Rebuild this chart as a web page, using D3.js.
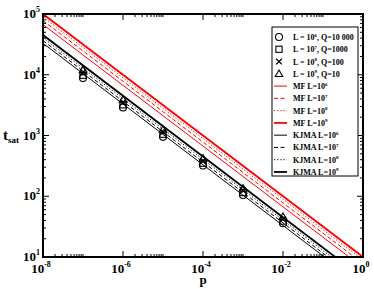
<!DOCTYPE html>
<html>
<head>
<meta charset="utf-8">
<script src="https://cdn.jsdelivr.net/npm/d3@7"></script>
<style>
  body { margin: 0; background: #fff; }
  text { font-family: "Liberation Serif", "DejaVu Serif", serif; font-weight: bold; fill: #000; }
</style>
</head>
<body>
<script>
// data
var pPoints = [1e-7, 1e-6, 1e-5, 1e-4, 1e-3, 1e-2];
var simL6 = [8800, 2900, 950, 320, 105, 36];
var simL7 = [9800, 3200, 1050, 350, 115, 39];
var simL8 = [11000, 3500, 1150, 385, 125, 42];
var simL9 = [12000, 3900, 1250, 420, 135, 46];

// straight lines in log-log, values at p = 1e-8 and p = 1
var lineP = [1e-8, 1];
var mfL6 = [67000, 6.7];
var mfL7 = [78000, 7.8];
var mfL8 = [89000, 8.9];
var mfL9 = [100000, 10];
var kjmaL6 = [33000, 3.3];
var kjmaL7 = [36500, 3.65];
var kjmaL8 = [40500, 4.05];
var kjmaL9 = [45000, 4.5];

var xMajor = [1e-8, 1e-6, 1e-4, 1e-2, 1];
var xExp = ["-8", "-6", "-4", "-2", "0"];
var yMajor = [1e1, 1e2, 1e3, 1e4, 1e5];
var yExp = ["1", "2", "3", "4", "5"];

var width = 374, height = 289;
var pLeft = 43, pRight = 363, pTop = 14, pBottom = 257;

var svg = d3.select("body").append("svg")
  .attr("width", width)
  .attr("height", height);

var x = d3.scaleLog().domain([1e-8, 1]).range([pLeft, pRight]);
var y = d3.scaleLog().domain([10, 1e5]).range([pBottom, pTop]);

svg.append("clipPath").attr("id", "plot")
  .append("rect")
  .attr("x", pLeft).attr("y", pTop)
  .attr("width", pRight - pLeft).attr("height", pBottom - pTop);

// lines
var lines = [
  { vals: mfL6, color: "#ff0000", w: 1, dash: null },
  { vals: mfL7, color: "#ff0000", w: 1, dash: "4,2.5" },
  { vals: mfL8, color: "#ff0000", w: 1, dash: "1.2,2" },
  { vals: mfL9, color: "#ff0000", w: 1.8, dash: null },
  { vals: kjmaL6, color: "#000", w: 1, dash: null },
  { vals: kjmaL7, color: "#000", w: 1, dash: "4,2.5" },
  { vals: kjmaL8, color: "#000", w: 1, dash: "1.2,2" },
  { vals: kjmaL9, color: "#000", w: 1.8, dash: null }
];

var lineGen = d3.line()
  .x(function(d) { return x(d[0]); })
  .y(function(d) { return y(d[1]); });

svg.append("g")
  .attr("clip-path", "url(#plot)")
  .selectAll("path")
  .data(lines)
  .enter().append("path")
  .attr("d", function(d) { return lineGen(lineP.map(function(p, i) { return [p, d.vals[i]]; })); })
  .attr("fill", "none")
  .attr("stroke", function(d) { return d.color; })
  .attr("stroke-width", function(d) { return d.w; })
  .attr("stroke-dasharray", function(d) { return d.dash; });

// symbols
function drawSymbol(g, type, cx, cy) {
  if (type === "circle") {
    g.append("circle").attr("cx", cx).attr("cy", cy).attr("r", 3.5)
      .attr("fill", "none").attr("stroke", "#000").attr("stroke-width", 1.1);
  } else if (type === "square") {
    g.append("rect").attr("x", cx - 3.1).attr("y", cy - 3.1).attr("width", 6.2).attr("height", 6.2)
      .attr("fill", "none").attr("stroke", "#000").attr("stroke-width", 1.1);
  } else if (type === "x") {
    g.append("path").attr("d", "M" + (cx - 2.8) + "," + (cy - 2.8) + "L" + (cx + 2.8) + "," + (cy + 2.8) +
      "M" + (cx - 2.8) + "," + (cy + 2.8) + "L" + (cx + 2.8) + "," + (cy - 2.8))
      .attr("stroke", "#000").attr("stroke-width", 1.3);
  } else {
    g.append("path").attr("d", "M" + cx + "," + (cy - 3.8) + "L" + (cx + 3.8) + "," + (cy + 2.7) +
      "L" + (cx - 3.8) + "," + (cy + 2.7) + "Z")
      .attr("fill", "none").attr("stroke", "#000").attr("stroke-width", 1.1);
  }
}

var sims = [
  { vals: simL6, type: "circle" },
  { vals: simL7, type: "square" },
  { vals: simL8, type: "x" },
  { vals: simL9, type: "triangle" }
];
var pts = svg.append("g");
sims.forEach(function(s) {
  s.vals.forEach(function(v, i) {
    drawSymbol(pts, s.type, x(pPoints[i]), y(v));
  });
});

// ticks
var xMinor = [];
xMajor.slice(0, -1).forEach(function(m) {
  for (var k = 2; k <= 10; k++) xMinor.push(m * k);
});
var yMinor = [];
yMajor.slice(0, -1).forEach(function(m) {
  for (var k = 2; k <= 9; k++) yMinor.push(m * k);
});

var ticks = svg.append("g").attr("stroke", "#000").attr("stroke-width", 1);
xMajor.forEach(function(v) {
  ticks.append("line").attr("x1", x(v)).attr("x2", x(v)).attr("y1", pBottom).attr("y2", pBottom - 6);
  ticks.append("line").attr("x1", x(v)).attr("x2", x(v)).attr("y1", pTop).attr("y2", pTop + 6);
});
xMinor.forEach(function(v) {
  ticks.append("line").attr("x1", x(v)).attr("x2", x(v)).attr("y1", pBottom).attr("y2", pBottom - 3);
  ticks.append("line").attr("x1", x(v)).attr("x2", x(v)).attr("y1", pTop).attr("y2", pTop + 3);
});
yMajor.forEach(function(v) {
  ticks.append("line").attr("y1", y(v)).attr("y2", y(v)).attr("x1", pLeft).attr("x2", pLeft + 6);
  ticks.append("line").attr("y1", y(v)).attr("y2", y(v)).attr("x1", pRight).attr("x2", pRight - 6);
});
yMinor.forEach(function(v) {
  ticks.append("line").attr("y1", y(v)).attr("y2", y(v)).attr("x1", pLeft).attr("x2", pLeft + 3);
  ticks.append("line").attr("y1", y(v)).attr("y2", y(v)).attr("x1", pRight).attr("x2", pRight - 3);
});

// frame
svg.append("rect")
  .attr("x", pLeft).attr("y", pTop)
  .attr("width", pRight - pLeft).attr("height", pBottom - pTop)
  .attr("fill", "none").attr("stroke", "#000").attr("stroke-width", 2);

// tick labels
xMajor.forEach(function(v, i) {
  var t = svg.append("text")
    .attr("x", x(v) - 2).attr("y", 273)
    .attr("text-anchor", "middle")
    .style("font-size", "13px");
  t.append("tspan").text("10");
  t.append("tspan").attr("dy", -6).style("font-size", "8px").text(xExp[i]);
});
yMajor.forEach(function(v, i) {
  var t = svg.append("text")
    .attr("x", 40).attr("y", y(v) + 4)
    .attr("text-anchor", "end")
    .style("font-size", "13px");
  t.append("tspan").text("10");
  t.append("tspan").attr("dy", -6).style("font-size", "8px").text(yExp[i]);
});

// axis titles
var yt = svg.append("text").attr("x", 3).attr("y", 140).style("font-size", "15px");
yt.append("tspan").text("t");
yt.append("tspan").attr("dy", 3).style("font-size", "9px").text("sat");
svg.append("text").attr("x", (pLeft + pRight) / 2).attr("y", 284)
  .attr("text-anchor", "middle").style("font-size", "13px").text("p");

// legend
var legendItems = [
  { kind: "sym", type: "circle", pre: "L = 10", exp: "6", post: ", Q=10 000" },
  { kind: "sym", type: "square", pre: "L = 10", exp: "7", post: ", Q=1000" },
  { kind: "sym", type: "x", pre: "L = 10", exp: "8", post: ", Q=100" },
  { kind: "sym", type: "triangle", pre: "L = 10", exp: "9", post: ", Q=10" },
  { kind: "line", line: lines[0], pre: "MF L=10", exp: "6", post: "" },
  { kind: "line", line: lines[1], pre: "MF L=10", exp: "7", post: "" },
  { kind: "line", line: lines[2], pre: "MF L=10", exp: "8", post: "" },
  { kind: "line", line: lines[3], pre: "MF L=10", exp: "9", post: "" },
  { kind: "line", line: lines[4], pre: "KJMA L=10", exp: "6", post: "" },
  { kind: "line", line: lines[5], pre: "KJMA L=10", exp: "7", post: "" },
  { kind: "line", line: lines[6], pre: "KJMA L=10", exp: "8", post: "" },
  { kind: "line", line: lines[7], pre: "KJMA L=10", exp: "9", post: "" }
];

var legend = svg.append("g");
legend.append("rect")
  .attr("x", 272).attr("y", 27).attr("width", 86).attr("height", 149)
  .attr("fill", "#fff").attr("stroke", "#000").attr("stroke-width", 1);

legendItems.forEach(function(d, i) {
  var ry = 37 + i * 12.27;
  if (d.kind === "sym") {
    drawSymbol(legend, d.type, 279, ry);
  } else {
    legend.append("line")
      .attr("x1", 274).attr("x2", 287).attr("y1", ry).attr("y2", ry)
      .attr("stroke", d.line.color)
      .attr("stroke-width", d.line.w)
      .attr("stroke-dasharray", d.line.dash);
  }
  var t = legend.append("text").attr("x", 293).attr("y", ry + 3).style("font-size", "8px");
  t.append("tspan").text(d.pre);
  t.append("tspan").attr("dy", -3.5).style("font-size", "5px").text(d.exp);
  if (d.post) t.append("tspan").attr("dy", 3.5).text(d.post);
});
</script>
</body>
</html>
